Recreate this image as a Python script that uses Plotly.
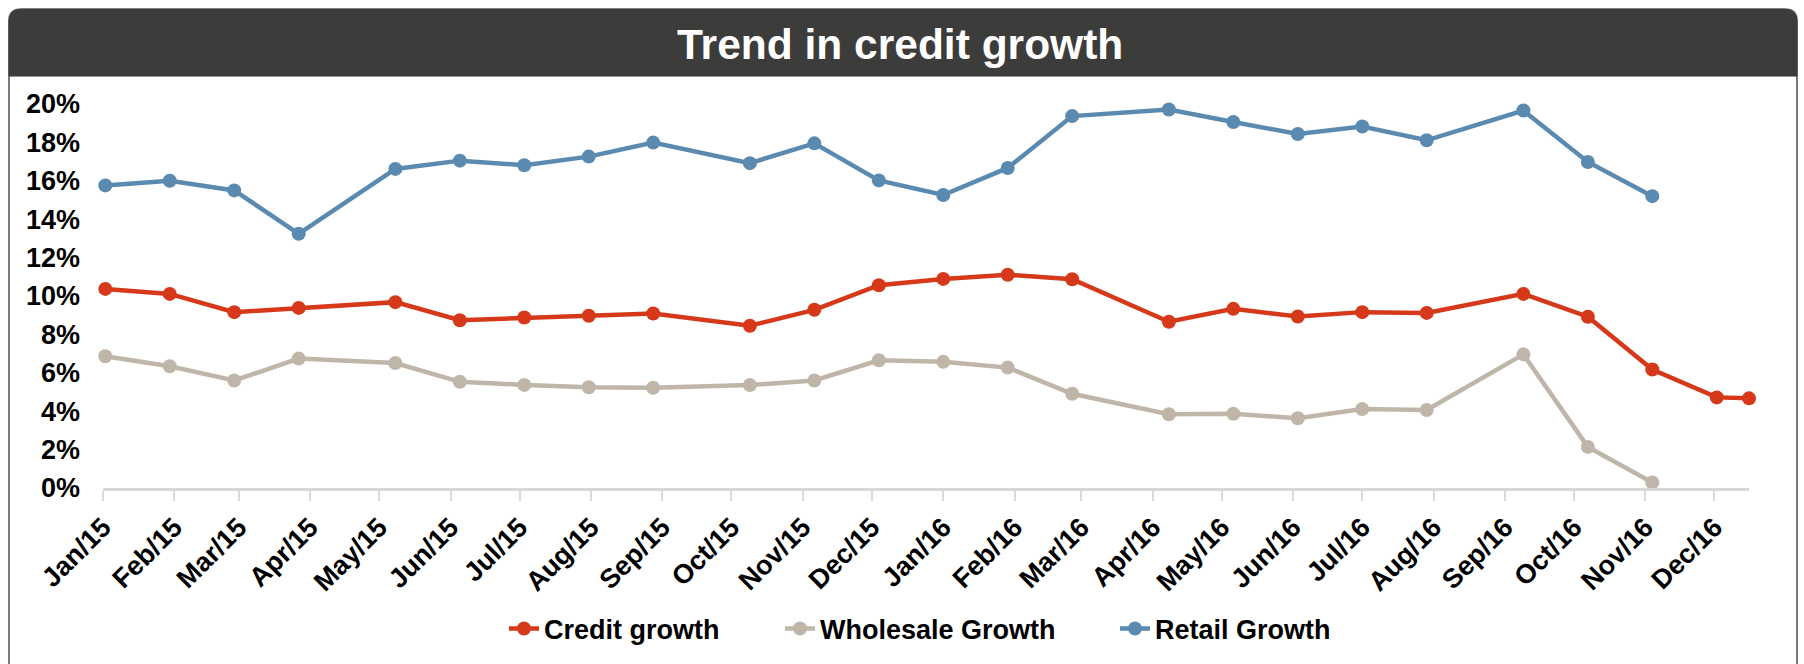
import plotly.graph_objects as go

# ---------------- data ----------------
dates = ["2015-01-02", "2015-01-30", "2015-02-27", "2015-03-27", "2015-05-08",
         "2015-06-05", "2015-07-03", "2015-07-31", "2015-08-28", "2015-10-09",
         "2015-11-06", "2015-12-04", "2016-01-01", "2016-01-29", "2016-02-26",
         "2016-04-08", "2016-05-06", "2016-06-03", "2016-07-01", "2016-07-29",
         "2016-09-09", "2016-10-07", "2016-11-04", "2016-12-02", "2016-12-16"]

credit_growth = [10.37, 10.11, 9.16, 9.38, 9.68, 8.74, 8.88, 8.97, 9.09, 8.45,
                 9.28, 10.56, 10.89, 11.11, 10.87, 8.66, 9.33, 8.93, 9.16, 9.12,
                 10.11, 8.92, 6.17, 4.72, 4.67]

wholesale_growth = [6.86, 6.34, 5.60, 6.74, 6.51, 5.53, 5.37, 5.25, 5.22, 5.36,
                    5.60, 6.65, 6.57, 6.27, 4.91, 3.84, 3.87, 3.63, 4.11, 4.06,
                    6.96, 2.14, 0.29]

retail_growth = [15.76, 16.00, 15.50, 13.24, 16.62, 17.05, 16.81, 17.26, 17.99, 16.92,
                 17.95, 16.02, 15.26, 16.67, 19.37, 19.71, 19.06, 18.44, 18.83, 18.11,
                 19.66, 16.98, 15.20]

series_names = ["Credit growth", "Wholesale Growth", "Retail Growth"]
series_colors = ["#D5391A", "#BFB6A9", "#5B8AB0"]
title_text = "Trend in credit growth"

# ---------------- geometry ----------------
W, H = 1804, 664
ML, MR, MT, MB = 103, 55, 104, 175
PW = W - ML - MR
PH = H - MT - MB


def px2x(px):
    return (px - ML) / PW


def py2y(py):
    return (H - MB - py) / PH


FONT = "Liberation Sans, Arial, sans-serif"
FS = 27

legend_ids = ["legend", "legend2", "legend3"]
legend_left_px = [504, 780, 1115]

fig = go.Figure()
for name, vals, col, lid in zip(series_names,
                                [credit_growth, wholesale_growth, retail_growth],
                                series_colors, legend_ids):
    fig.add_trace(go.Scatter(
        x=dates[:len(vals)], y=vals, name=name, mode="lines+markers",
        line=dict(color=col, width=4.5),
        marker=dict(color=col, size=14),
        cliponaxis=False, legend=lid,
    ))

# frame + header shapes (pixel -> paper conversion)
L, R, T, HB, BOT = 9, 1797, 9, 76, 720
r = 12
header_path = (
    f"M {px2x(L)},{py2y(HB)} L {px2x(L)},{py2y(T + r)} "
    f"Q {px2x(L)},{py2y(T)} {px2x(L + r)},{py2y(T)} "
    f"L {px2x(R - r)},{py2y(T)} Q {px2x(R)},{py2y(T)} {px2x(R)},{py2y(T + r)} "
    f"L {px2x(R)},{py2y(HB)} Z"
)
frame_path = (
    f"M {px2x(L)},{py2y(BOT)} L {px2x(L)},{py2y(T + r)} "
    f"Q {px2x(L)},{py2y(T)} {px2x(L + r)},{py2y(T)} "
    f"L {px2x(R - r)},{py2y(T)} Q {px2x(R)},{py2y(T)} {px2x(R)},{py2y(T + r)} "
    f"L {px2x(R)},{py2y(BOT)}"
)
shapes = [
    dict(type="path", xref="paper", yref="paper", path=frame_path,
         line=dict(color="#7a7a7a", width=2), layer="below"),
    dict(type="path", xref="paper", yref="paper", path=header_path,
         fillcolor="#3C3C3A", line=dict(color="#3C3C3A", width=1), layer="below"),
]

legend_font = dict(family=FONT, size=FS, color="black", weight="bold")
layout_legends = {}
for lid, lx in zip(legend_ids, legend_left_px):
    layout_legends[lid] = dict(orientation="h", x=px2x(lx), xanchor="left",
                               y=py2y(629), yanchor="middle", itemwidth=30,
                               font=legend_font, bgcolor="rgba(0,0,0,0)")

fig.update_layout(
    width=W, height=H,
    margin=dict(l=ML, r=MR, t=MT, b=MB, pad=0),
    paper_bgcolor="white", plot_bgcolor="white",
    font=dict(family=FONT, size=FS, color="black", weight="bold"),
    shapes=shapes,
    showlegend=True,
    annotations=[dict(text=title_text, xref="paper", yref="paper",
                      x=px2x(900), y=py2y(44), xanchor="center", yanchor="middle",
                      showarrow=False,
                      font=dict(family=FONT, size=42.5, color="white", weight="bold"))],
    **layout_legends,
)

fig.update_xaxes(
    type="date", range=["2015-01-01", "2016-12-16"],
    tick0="2015-01-01", dtick="M1", tickformat="%b/%y", tickangle=-45,
    ticks="outside", ticklen=10, tickwidth=2, tickcolor="#D9D9D9",
    showline=True, linecolor="#D9D9D9", linewidth=2.5,
    showgrid=False, zeroline=False,
    tickfont=dict(family=FONT, size=FS, color="black", weight="bold"),
)
fig.update_yaxes(
    range=[0, 20], dtick=2, tick0=0, ticksuffix="%",
    showgrid=False, zeroline=False, showline=False,
    ticks="", ticklabelstandoff=22,
    tickfont=dict(family=FONT, size=FS, color="black", weight="bold"),
)

fig.write_html("out.html", config={"displayModeBar": False},
               post_script="document.body.style.margin='0';")
